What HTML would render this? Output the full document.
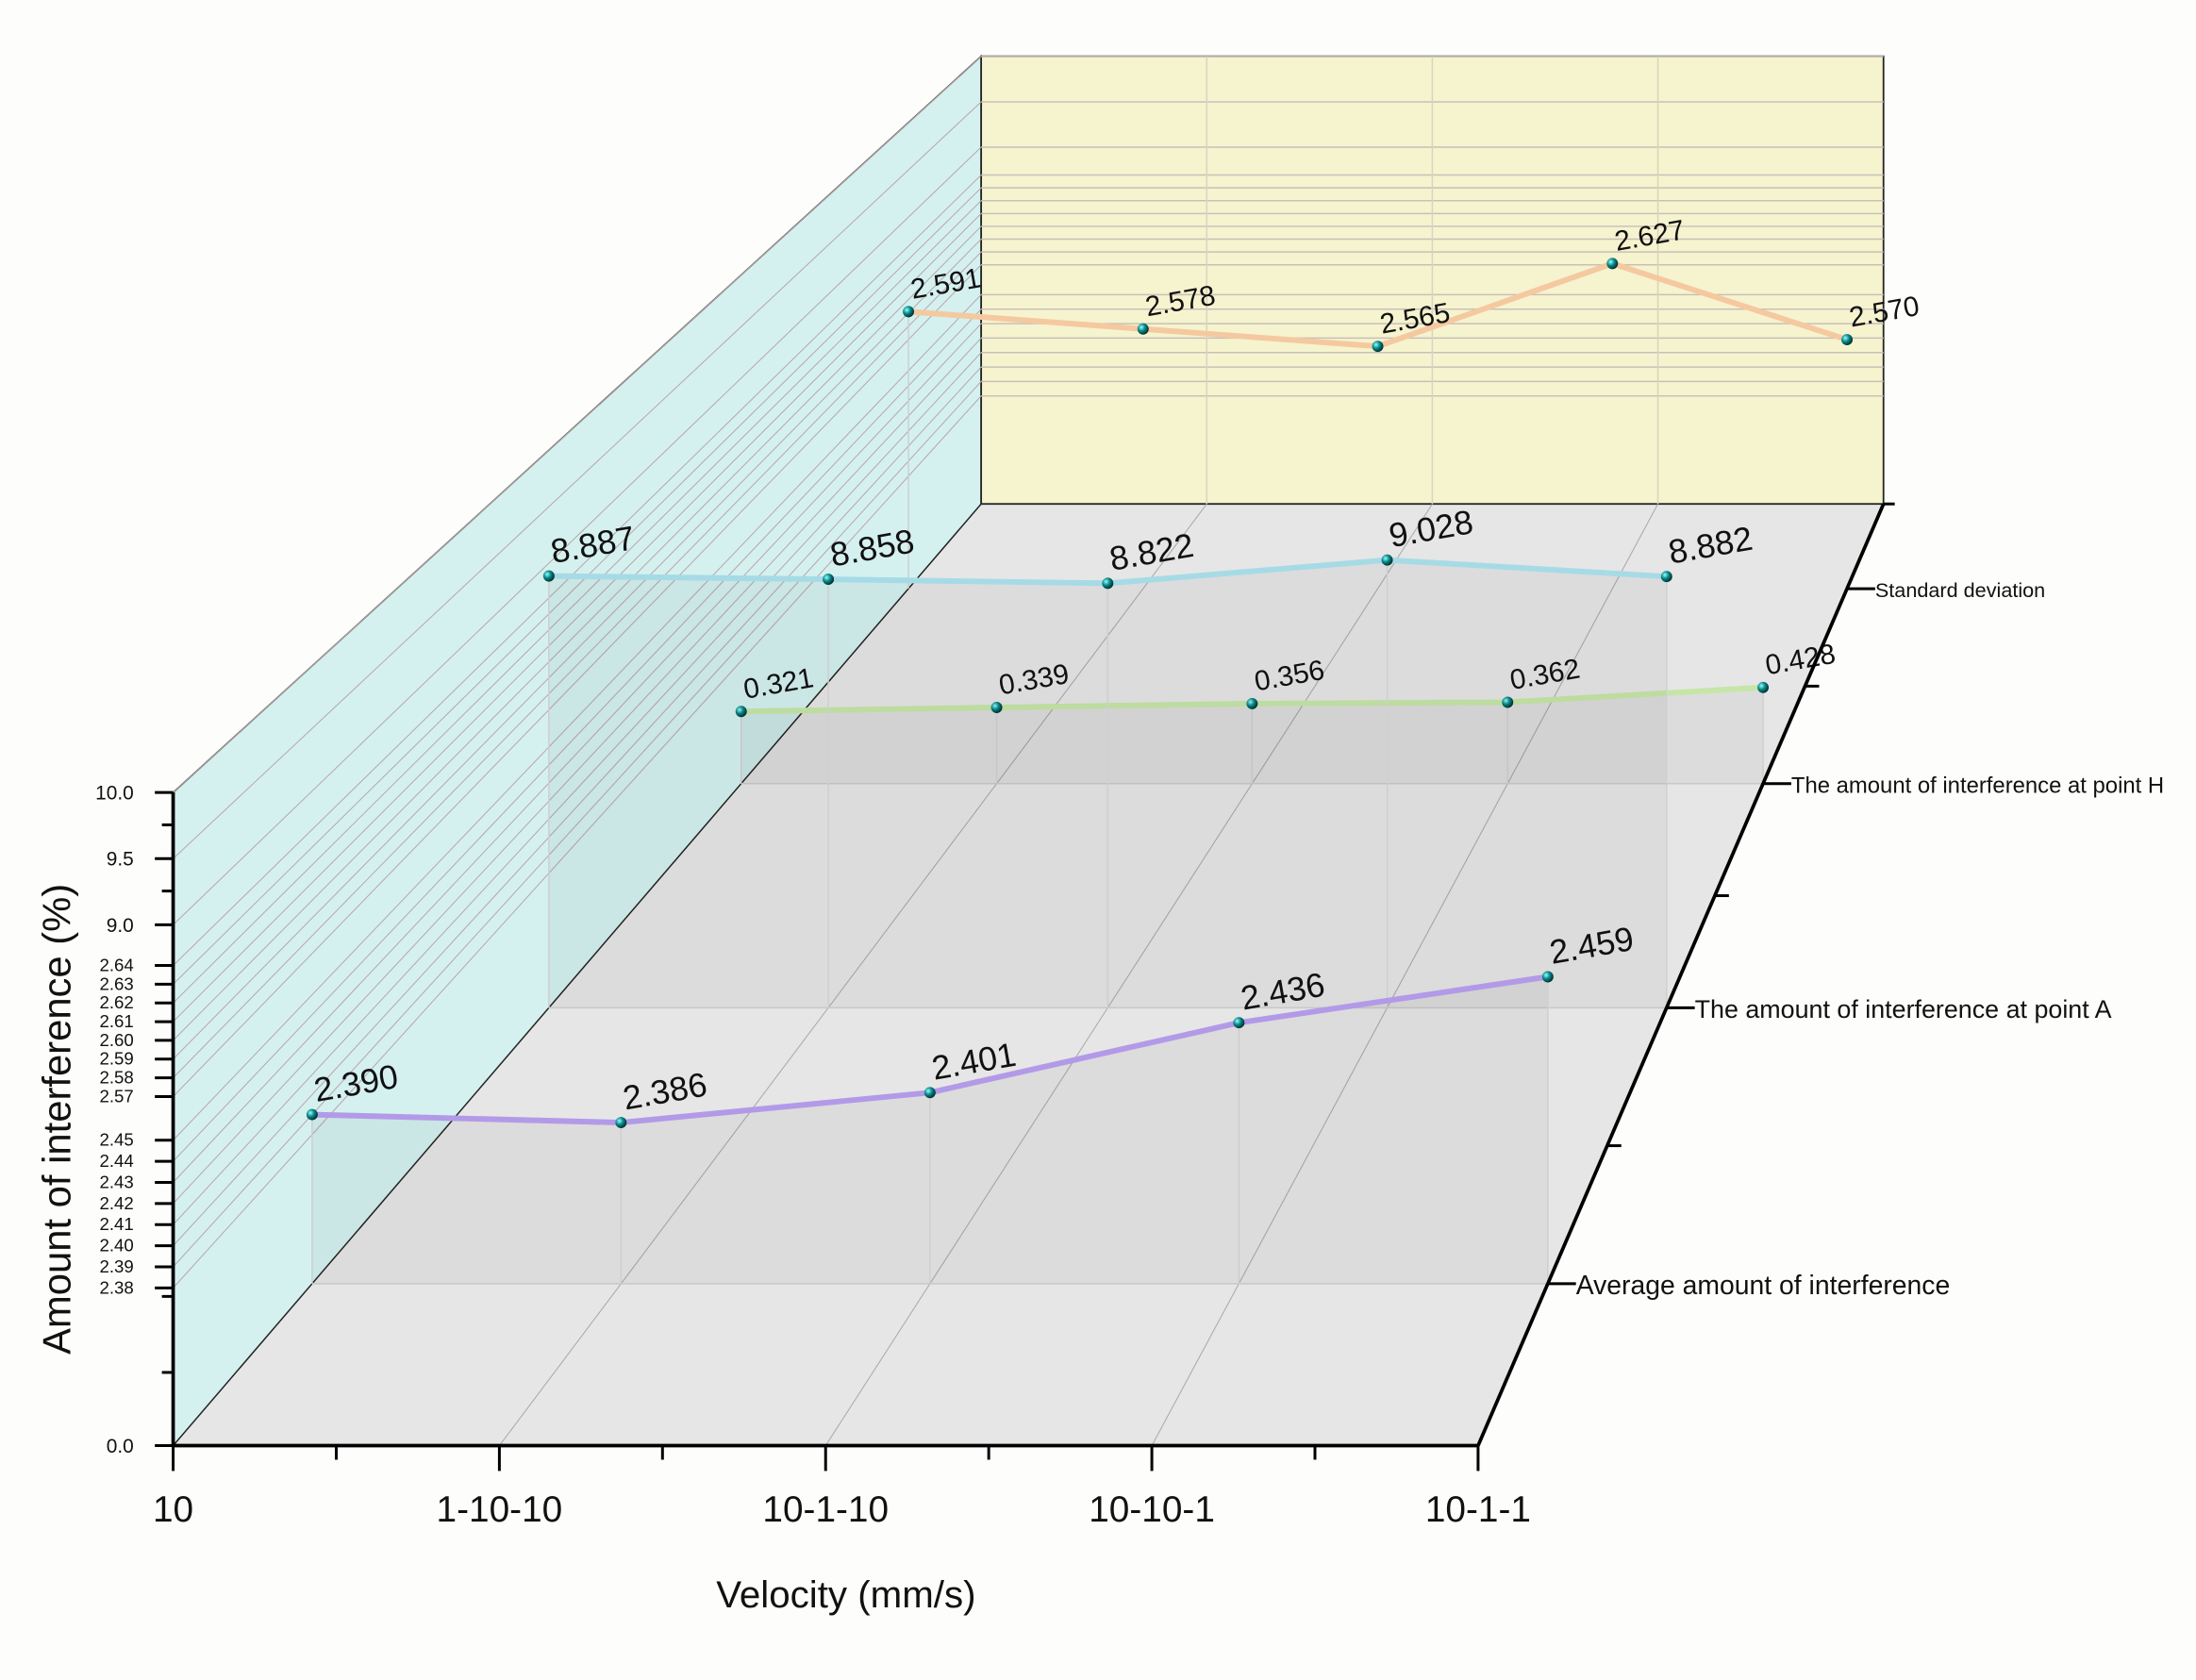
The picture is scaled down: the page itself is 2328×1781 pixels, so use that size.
<!DOCTYPE html>
<html><head><meta charset="utf-8"><style>
html,body{margin:0;padding:0;background:#fdfdfb;}
svg{display:block;font-family:"Liberation Sans",sans-serif;}
</style></head><body>
<svg id="chart" xmlns="http://www.w3.org/2000/svg" width="2328" height="1781" viewBox="0 0 1560 1193.5" preserveAspectRatio="none">
<defs>
<radialGradient id="ball" cx="35%" cy="35%" r="65%"><stop offset="0" stop-color="#9ff"/><stop offset="0.5" stop-color="#0a8a8a"/><stop offset="1" stop-color="#033"/></radialGradient>
</defs>
<g id="walls"></g>
<g id="grid"></g>
<g id="series"></g>
<g id="axes"></g>
</svg>
<script>
// ---- data ----
const categories = ["10","1-10-10","10-1-10","10-10-1","10-1-1"];
const depthLabels = ["Average amount of interference","The amount of interference at point A","The amount of interference at point H","Standard deviation"];
const avgValues = [2.390,2.386,2.401,2.436,2.459];
const pointAValues = [8.887,8.858,8.822,9.028,8.882];
const pointHValues = [0.321,0.339,0.356,0.362,0.428];
const stdValues = [2.591,2.578,2.565,2.627,2.570];
const yTickLabels = ["10.0","9.5","9.0","2.64","2.63","2.62","2.61","2.60","2.59","2.58","2.57","2.45","2.44","2.43","2.42","2.41","2.40","2.39","2.38","0.0"];

const NS="http://www.w3.org/2000/svg";
function mk(tag,attrs,parent,text){const e=document.createElementNS(NS,tag);for(const k in attrs)e.setAttribute(k,attrs[k]);if(text!==undefined)e.textContent=text;parent.appendChild(e);return e;}

// ---- geometry / axis functions ----
const FX0=123,FX1=1050,FY=1027,BX0=697,BX1=1338,BY=358;
function leftX(t){return FX0+(BX0-FX0)*t;}
function rightX(t){return FX1+(BX1-FX1)*t;}
function floorY(t){return FY-(FY-BY)*t;}
function hScale(t){return 1-0.315*t;}
function xPos(i,t){return leftX(t)+(rightX(t)-leftX(t))*i/(categories.length-1);}
function yLow(v){return 915-(v-2.38)*1500;}
function yMid(v){return 779-(v-2.57)*1330;}
function yHigh(v){return 657-(v-9.0)*94;}
function yZero(v){return FY-205*v;}
function tickY(lbl){const v=parseFloat(lbl);if(v>=8.5)return yHigh(v);if(v>=2.5)return yMid(v);if(v>=2.3)return yLow(v);return yZero(v);}
function project(frontY,t){return floorY(t)-(FY-frontY)*hScale(t);}

const walls=document.getElementById('walls'),grid=document.getElementById('grid'),ser=document.getElementById('series'),axes=document.getElementById('axes');

let e;
e=mk('polygon',{points:`${FX0},${FY} ${FX1},${FY} ${BX1},${BY} ${BX0},${BY}`,fill:'#e6e6e6'},walls);

e=mk('polygon',{points:`${FX0},${FY} ${FX0},563 ${BX0},40 ${BX0},${BY}`,fill:'#d4f1f0',stroke:'#222','stroke-width':1},walls);

e=mk('rect',{x:BX0,y:40,width:BX1-BX0,height:BY-40,fill:'#f6f3cf',stroke:'#222','stroke-width':1.2},walls);


yTickLabels.forEach(l=>{const fy=tickY(l);const by=project(fy,1);
 if(l==="0.0")return;
 e=mk('line',{x1:FX0,y1:fy,x2:BX0,y2:by,stroke:'#b9a9a9','stroke-width':0.7},grid);
 
 e=mk('line',{x1:BX0,y1:by,x2:BX1,y2:by,stroke:'#c8c0b8','stroke-width':1},grid);
 
});
categories.forEach((c,i)=>{const fx=xPos(i,0),bx=xPos(i,1);
 if(i>0&&i<categories.length-1){
 e=mk('line',{x1:fx,y1:FY,x2:bx,y2:BY,stroke:'#aaa','stroke-width':0.7},grid);
 
 e=mk('line',{x1:bx,y1:BY,x2:bx,y2:40,stroke:'#d8d4c0','stroke-width':1},grid);
 }
});

const seriesDefs=[
 {name:'average',vals:avgValues,t:0.172,fy:yLow,color:'#b39ae8',fs:24,area:true},
 {name:'point-a',vals:pointAValues,t:0.465,fy:yHigh,color:'#a6dbe6',fs:24,area:true},
 {name:'point-h',vals:pointHValues,t:0.703,fy:yZero,color:'#c6e6a8',fs:20,area:true},
 {name:'std-dev',vals:stdValues,t:0.91,fy:yMid,color:'#f5c9a0',fs:20,area:false}
];
seriesDefs.slice().reverse().forEach(s=>{
 const g=mk('g',{},ser);
 
 const pts=s.vals.map((v,i)=>[xPos(i,s.t),project(s.fy(v),s.t)]);
 const base=floorY(s.t);
 if(s.area){
 let poly=`${pts[0][0]},${base} `+pts.map(p=>p.join(',')).join(' ')+` ${pts[pts.length-1][0]},${base}`;
 e=mk('polygon',{points:poly,fill:'rgba(0,0,0,0.045)'},g);
 
 e=mk('line',{x1:leftX(s.t),y1:base,x2:rightX(s.t),y2:base,stroke:'#c8c8c8','stroke-width':1},g);
 
 pts.forEach(p=>{e=mk('line',{x1:p[0],y1:p[1],x2:p[0],y2:base,stroke:'#cfcfcf','stroke-width':1},g);
  });
 } else {
 e=mk('line',{x1:pts[0][0],y1:pts[0][1],x2:pts[0][0],y2:base,stroke:'#cfcfcf','stroke-width':1},g);
 
 }
 e=mk('polyline',{points:pts.map(p=>p.join(',')).join(' '),fill:'none',stroke:s.color,'stroke-width':4,'stroke-linejoin':'round'},g);
 
 pts.forEach((p,i)=>{
  e=mk('circle',{cx:p[0],cy:p[1],r:4,fill:'url(#ball)'},g);
  
  e=mk('text',{x:p[0]+3,y:p[1]-9,'font-size':s.fs,fill:'#111',transform:`rotate(-10 ${p[0]+3} ${p[1]-9})`},g,s.vals[i].toFixed(3));
  
 });
});

e=mk('line',{x1:FX0,y1:FY,x2:FX0,y2:563,stroke:'#000','stroke-width':2.5},axes);

e=mk('line',{x1:FX0-1,y1:FY,x2:FX1,y2:FY,stroke:'#000','stroke-width':2.5},axes);

e=mk('line',{x1:FX1,y1:FY,x2:BX1,y2:BY,stroke:'#000','stroke-width':2.5},axes);


yTickLabels.forEach(l=>{const y=tickY(l);
 e=mk('line',{x1:FX0-13,y1:y,x2:FX0,y2:y,stroke:'#000','stroke-width':2},axes);
 
 const big=(l==="10.0"||l==="9.5"||l==="9.0"||l==="0.0");
 e=mk('text',{x:FX0-28,y:y+(big?5:4),'text-anchor':'end','font-size':big?14:12.5,fill:'#111'},axes,l);
 
});
[586,633,921,975].forEach(y=>{e=mk('line',{x1:FX0-8,y1:y,x2:FX0,y2:y,stroke:'#000','stroke-width':2},axes);
 });

categories.forEach((c,i)=>{const x=xPos(i,0);
 e=mk('line',{x1:x,y1:FY,x2:x,y2:FY+18,stroke:'#000','stroke-width':2},axes);
 
 if(i<categories.length-1){const xm=(x+xPos(i+1,0))/2;
  e=mk('line',{x1:xm,y1:FY,x2:xm,y2:FY+10,stroke:'#000','stroke-width':2},axes);
  }
 e=mk('text',{x:x,y:FY+54,'text-anchor':'middle','font-size':26,fill:'#111'},axes,c);
 
});

const depthTs=[0.172,0.465,0.703,0.91];
const depthFs=[19,18,16,14.5];
depthTs.forEach((t,i)=>{const x=rightX(t),y=floorY(t);
 e=mk('line',{x1:x,y1:y,x2:x+20,y2:y,stroke:'#000','stroke-width':2},axes);
 
 e=mk('text',{x:x+20,y:y+depthFs[i]*0.35+1,'font-size':depthFs[i],fill:'#111'},axes,depthLabels[i]);
 
 if(i<depthTs.length-1){const tm=(t+depthTs[i+1])/2;const xm=rightX(tm),ym=floorY(tm);
  e=mk('line',{x1:xm,y1:ym,x2:xm+10,y2:ym,stroke:'#000','stroke-width':2},axes);
  }
});
e=mk('line',{x1:BX1,y1:BY,x2:BX1+8,y2:BY,stroke:'#000','stroke-width':2},axes);


e=mk('text',{x:50,y:795,'text-anchor':'middle','font-size':28,fill:'#111',transform:'rotate(-90 50 795)'},axes,'Amount of interference (%)');

e=mk('text',{x:601,y:1142,'text-anchor':'middle','font-size':27,fill:'#111'},axes,'Velocity (mm/s)');

</script>
</body></html>
